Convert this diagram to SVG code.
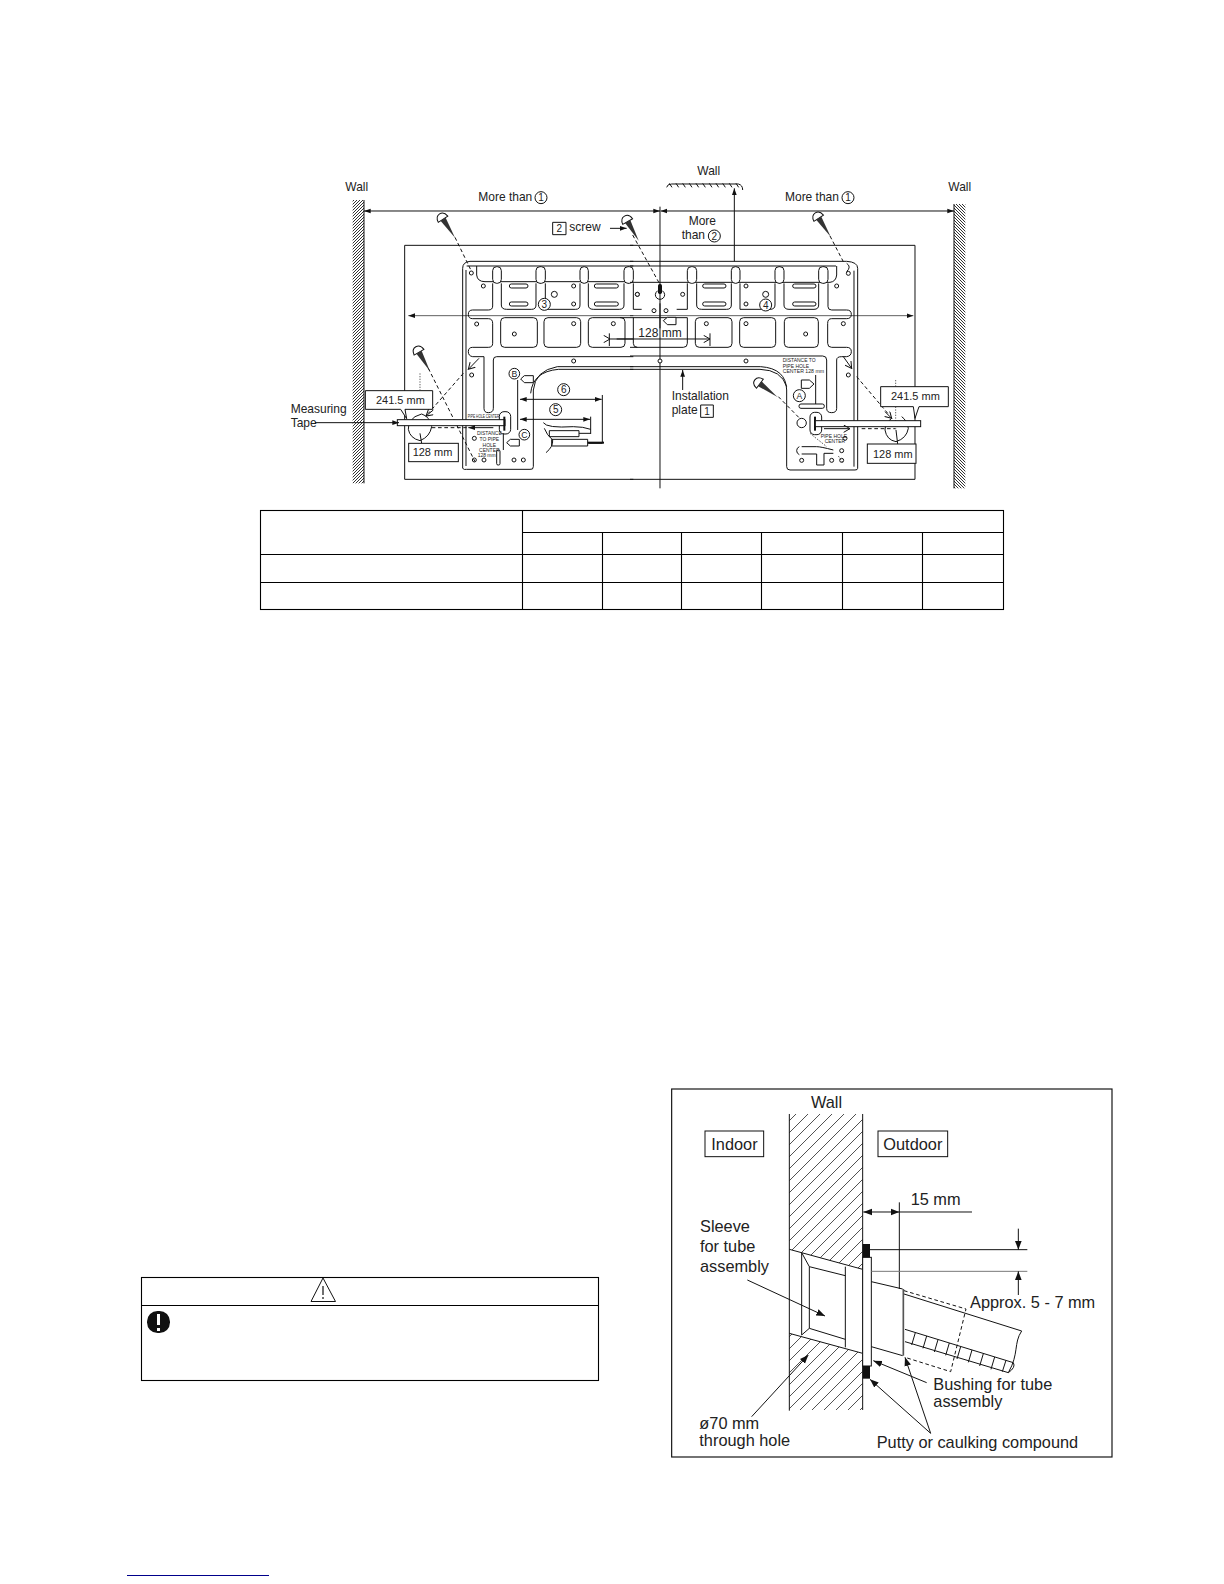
<svg xmlns="http://www.w3.org/2000/svg" width="1224" height="1584" viewBox="0 0 1224 1584">
<style>
text{font-family:"Liberation Sans",Arial,sans-serif;fill:#222}
.t{font-size:36px}
.m{font-size:33px}
.w{font-size:49px}
.s{font-size:15px}
.d{font-size:30px;text-anchor:middle}
.l{fill:none;stroke:#111;stroke-width:3;stroke-linejoin:round}
.th{fill:none;stroke:#111;stroke-width:2}
.da{fill:none;stroke:#111;stroke-width:3;stroke-dasharray:11 8}
.bx{fill:#fff;stroke:#111;stroke-width:3}
.h{fill:#fff;stroke:#111;stroke-width:3}
.k{fill:#111;stroke:none}
.tb{fill:none;stroke:#000;stroke-width:1.100}
</style>
<defs>
<pattern id="hl" width="9" height="9" patternUnits="userSpaceOnUse"><path d="M-2 11L11 -2M-2 2L2 -2M7 11L11 7" stroke="#111" stroke-width="2.600"/></pattern>
<pattern id="hr" width="9" height="9" patternUnits="userSpaceOnUse"><path d="M-2 -2L11 11M7 -2L11 2M-2 7L2 11" stroke="#111" stroke-width="2.600"/></pattern>
<pattern id="hw" width="36" height="36" patternUnits="userSpaceOnUse"><path d="M-4 40L40 -4M-4 4L4 -4M32 40L40 32" stroke="#222" stroke-width="2.400"/></pattern>
<marker id="a" markerWidth="22" markerHeight="16" refX="20" refY="8" orient="auto-start-reverse" markerUnits="userSpaceOnUse"><path d="M0 1L20 8L0 15Z" fill="#111"/></marker>
<marker id="b" markerWidth="30" markerHeight="24" refX="26" refY="12" orient="auto-start-reverse" markerUnits="userSpaceOnUse"><path d="M0 2L26 12L0 22Z" fill="#111"/></marker>
<marker id="o" markerWidth="24" markerHeight="24" refX="21" refY="12" orient="auto" markerUnits="userSpaceOnUse"><path d="M2 1L21 12L2 23" fill="none" stroke="#111" stroke-width="3"/></marker>
<g id="screw"><path d="M2 -17Q-17 -15 -17 0Q-17 15 2 17Z" fill="#fff" stroke="#111" stroke-width="3"/><path d="M2 -9L68 0L2 9Z" fill="#333"/></g>
</defs>
<rect width="1224" height="1584" fill="#fff"/>

<g id="plan-left" transform="translate(280 160) scale(.33333)">
<text class="t" x="196" y="92">Wall</text>
<rect x="218" y="120" width="34" height="850" fill="url(#hl)"/>
<path class="l" d="M252 120V970"/>
<text class="t" x="595" y="124">More than</text>
<circle cx="783" cy="113" r="18" class="l"/><text class="d" x="783" y="124">1</text>
<path class="l" d="M1060 256H374V958H1060"/>
<path class="l" d="M548 925V325Q548 306 570 304H1060M560 318H1060M558 330V918M590 318V345Q592 365 615 365H1060"/>
<path class="l" d="M548 925Q552 930 560 928H750Q760 930 760 920V690Q765 632 832 620H1060M752 700Q758 635 835 628H1060"/>
<rect x="638" y="320" width="26" height="50" rx="12" class="h"/><rect x="768" y="320" width="28" height="50" rx="12" class="h"/><rect x="900" y="320" width="25" height="50" rx="12" class="h"/><rect x="1032" y="320" width="28" height="50" rx="12" class="h"/>
<path class="l" d="M664 370V435Q664 448 680 448H755Q768 448 768 435V370M796 370V448H887Q900 448 900 435V370M925 370V435Q925 448 940 448H1018Q1032 448 1032 435V370M1060 370V448H1085"/>
<path class="l" d="M638 370V438Q638 450 625 450H578Q565 450 565 463Q565 476 578 476H625Q638 476 638 490V550Q638 562 625 562H578Q565 562 565 575Q565 588 578 590H612V745Q612 758 625 758Q640 758 640 745V600Q640 590 650 590H1060"/>
<rect x="662" y="473" width="110" height="89" rx="12" class="l"/><rect x="792" y="473" width="110" height="89" rx="12" class="l"/><rect x="925" y="473" width="110" height="89" rx="12" class="l"/>
<path class="l" d="M1060 473V550Q1060 562 1072 562"/>
<rect x="688" y="372" width="56" height="12" rx="6" class="l"/><rect x="688" y="426" width="56" height="12" rx="6" class="l"/><rect x="943" y="372" width="72" height="12" rx="6" class="l"/><rect x="943" y="426" width="72" height="12" rx="6" class="l"/>
<g class="h"><circle cx="574" cy="339" r="6"/><circle cx="610" cy="378" r="6"/><circle cx="881" cy="378" r="6"/><circle cx="881" cy="432" r="6"/><circle cx="823" cy="403" r="9"/><circle cx="590" cy="492" r="6"/><circle cx="703" cy="522" r="6"/><circle cx="881" cy="491" r="6"/><circle cx="1000" cy="491" r="6"/><circle cx="881" cy="603" r="6"/><circle cx="575" cy="645" r="6"/><circle cx="583" cy="835" r="6"/><circle cx="583" cy="900" r="6"/><circle cx="612" cy="900" r="6"/><circle cx="702" cy="900" r="6"/><circle cx="730" cy="900" r="6"/><circle cx="1072" cy="403" r="6"/></g>
<circle cx="793" cy="433" r="18" class="h"/><text class="d" x="793" y="444">3</text>
<path class="th" d="M385 467H1060" marker-start="url(#a)"/>
<path class="l" d="M990 537H1060" marker-start="url(#o)"/><path class="l" d="M988 520V558"/>
<use href="#screw" transform="translate(488 176) rotate(57)"/>
<path class="da" d="M525 232L575 335"/>
<use href="#screw" transform="translate(416 575) rotate(60)"/>
<path class="da" d="M445 625L585 905"/>
<path class="l" d="M597 595L565 628" marker-end="url(#o)"/>
<path class="da" d="M550 640L445 760"/><path class="l" d="M460 750L438 768" marker-end="url(#o)"/>
<path class="da" d="M420 640V690" style="stroke-width:2;stroke-dasharray:4 4"/>
<path class="l" d="M405 770Q385 785 385 808Q390 835 420 842Q450 830 455 800Q450 770 425 762Z"/>
<path class="l" d="M420 820L425 850"/>
<path class="bx" d="M256 692H458V748H375L380 776L362 748H256Z"/>
<text class="m" x="288" y="731">241.5 mm</text>
<rect x="386" y="850" width="149" height="55" class="bx"/>
<text class="m" x="398" y="889">128 mm</text>
<text class="t" x="32" y="760">Measuring</text>
<text class="t" x="32" y="801">Tape</text>
<rect x="658" y="755" width="34" height="67" rx="14" class="l"/>
<rect x="352" y="779" width="323" height="18" class="bx"/>
<rect x="670" y="770" width="6" height="42" class="k"/>
<path class="l" d="M105 788H357" marker-end="url(#a)"/>
<path class="da" d="M455 803H560"/><path class="l" d="M565 803H640" marker-start="url(#a)"/>
<text x="563" y="773" class="s" textLength="95" lengthAdjust="spacingAndGlyphs">PIPE HOLE CENTER</text>
<g class="s" style="text-anchor:middle"><text x="628" y="826">DISTANCE</text><text x="628" y="843">TO PIPE</text><text x="628" y="860">HOLE</text><text x="628" y="876">CENTER</text><text x="620" y="892">128 mm</text></g>
<rect x="650" y="870" width="10" height="45" rx="4" class="l"/>
<path class="l" d="M670 820V870M713 660V810"/>
<circle cx="703" cy="641" r="16" class="h"/><text class="d" x="703" y="651" style="font-size:26px">B</text>
<circle cx="733" cy="824" r="16" class="h"/><text class="d" x="733" y="834" style="font-size:26px">C</text>
<path class="h" d="M722 657L733 647H760V668H733Z"/><path class="h" d="M680 848L691 838H718V858H691Z"/>
<circle cx="851" cy="689" r="18" class="l"/><text class="d" x="851" y="700">6</text>
<circle cx="827" cy="749" r="18" class="l"/><text class="d" x="827" y="760">5</text>
<path class="l" d="M720 718H965" marker-start="url(#a)" marker-end="url(#a)"/>
<path class="l" d="M720 778H930" marker-start="url(#a)" marker-end="url(#a)"/>
<path class="l" d="M967 705V850H925M932 770V822M790 788Q800 805 880 800Q910 800 932 808"/>
<rect x="808" y="812" width="89" height="18" class="l"/><rect x="815" y="838" width="108" height="20" class="l"/>
<path class="l" d="M897 820H932"/><path d="M923 848H972" stroke="#111" stroke-width="6"/>
<path class="l" d="M793 805Q800 825 818 840Q820 860 798 878"/>
<rect x="818" y="187" width="40" height="37" class="l"/><text class="d" x="838" y="216">2</text>
<text class="t" x="868" y="213">screw</text>
<path class="l" d="M990 205H1040" marker-end="url(#a)"/>
<use href="#screw" transform="translate(1042 183) rotate(60)"/>
<path class="da" d="M1058 225L1138 370"/>
<path class="l" d="M252 153H1140" marker-start="url(#a)" marker-end="url(#a)"/>
</g>

<g id="plan-right" transform="translate(630 160) scale(.33333)">
<path class="l" d="M90 140V985"/>
<text class="t" x="202" y="46">Wall</text>
<path class="l" d="M110 82Q112 72 125 72H325Q338 75 338 90"/>
<path class="l" d="M118 70l8 12M138 70l8 12M158 70l8 12M178 70l8 12M198 70l8 12M218 70l8 12M238 70l8 12M258 70l8 12M278 70l8 12M298 70l8 12M318 70l8 12"/>
<path class="l" d="M313 304V85" marker-end="url(#a)"/>
<text class="t" x="176" y="194">More</text><text class="t" x="155" y="238">than</text>
<circle cx="253" cy="228" r="18" class="l"/><text class="d" x="253" y="239">2</text>
<text class="t" x="465" y="124">More than</text>
<circle cx="654" cy="113" r="18" class="l"/><text class="d" x="654" y="124">1</text>
<path class="l" d="M92 153H972" marker-start="url(#a)" marker-end="url(#a)"/>
<text class="t" x="955" y="92">Wall</text>
<rect x="972" y="132" width="34" height="853" fill="url(#hr)"/>
<path class="l" d="M972 132V985"/>
<path class="l" d="M0 256H855V958H0"/>
<path class="l" d="M0 304H650Q683 306 683 325V925Q683 930 675 930H480Q470 930 470 920V690Q468 625 392 620H0M0 628H390Q455 630 470 680M0 318H618M672 332V920"/>
<path class="l" d="M620 318V345Q618 365 600 367H0"/>
<path class="l" d="M650 310Q665 320 650 335"/>
<rect x="172" y="320" width="28" height="50" rx="12" class="h"/><rect x="304" y="320" width="26" height="50" rx="12" class="h"/><rect x="435" y="320" width="27" height="50" rx="12" class="h"/><rect x="566" y="320" width="28" height="50" rx="12" class="h"/>
<path class="l" d="M200 370V435Q200 448 215 448H290Q304 448 304 435V370M330 370V448H420Q435 448 435 435V370M462 370V435Q462 448 477 448H552Q566 448 566 435V370M172 370V448H140"/>
<path class="l" d="M594 370V440Q594 450 605 450H650Q664 450 664 463Q664 476 650 476H605Q593 476 593 490V550Q593 562 605 562H650Q664 562 664 575Q664 588 650 590H635Q620 590 620 600V745Q620 758 605 758Q590 758 590 745V600Q590 588 578 588H0"/>
<rect x="196" y="473" width="110" height="89" rx="12" class="l"/><rect x="329" y="473" width="108" height="89" rx="12" class="l"/><rect x="463" y="473" width="102" height="89" rx="12" class="l"/>
<path class="l" d="M172 473V550Q172 562 160 562H0M-30 473H172"/>
<rect x="218" y="372" width="70" height="12" rx="6" class="l"/><rect x="218" y="426" width="70" height="12" rx="6" class="l"/><rect x="488" y="372" width="70" height="12" rx="6" class="l"/><rect x="488" y="426" width="70" height="12" rx="6" class="l"/>
<rect x="84" y="372" width="12" height="30" rx="5" class="k"/>
<path class="l" d="M83 392Q76 398 76 404A14 14 0 0 0 104 404Q104 398 97 392"/>
<g class="h"><circle cx="22" cy="403" r="6"/><circle cx="158" cy="403" r="6"/><circle cx="72" cy="452" r="6"/><circle cx="108" cy="452" r="6"/><circle cx="348" cy="378" r="6"/><circle cx="348" cy="432" r="6"/><circle cx="620" cy="378" r="6"/><circle cx="407" cy="403" r="9"/><circle cx="655" cy="340" r="6"/><circle cx="229" cy="491" r="6"/><circle cx="348" cy="491" r="6"/><circle cx="527" cy="522" r="6"/><circle cx="640" cy="491" r="6"/><circle cx="90" cy="603" r="6"/><circle cx="348" cy="603" r="6"/><circle cx="655" cy="645" r="6"/><circle cx="645" cy="835" r="6"/><circle cx="635" cy="872" r="6"/><circle cx="515" cy="901" r="6"/><circle cx="605" cy="901" r="6"/><circle cx="635" cy="901" r="6"/></g>
<circle cx="407" cy="435" r="18" class="h"/><text class="d" x="407" y="446">4</text>
<path class="th" d="M0 467H850" marker-end="url(#a)"/>
<path class="l" d="M90 430V505"/>
<path class="h" d="M100 482L112 472H138V494H112Z"/>
<text class="t" x="25" y="532">128 mm</text>
<path class="l" d="M-40 537H240" marker-end="url(#o)"/><path class="l" d="M240 520V558"/>
<text class="t" x="125" y="720">Installation</text><text class="t" x="125" y="763">plate</text>
<rect x="212" y="735" width="38" height="37" class="l"/><text class="d" x="231" y="765">1</text>
<path class="l" d="M158 690V630" marker-end="url(#a)"/>
<use href="#screw" transform="translate(565 173) rotate(57)"/>
<path class="da" d="M600 228L640 305"/>
<use href="#screw" transform="translate(388 670) rotate(37)"/>
<path class="da" d="M445 710L512 778"/>
<circle cx="515" cy="789" r="14" class="h"/>
<rect x="540" y="757" width="35" height="67" rx="14" class="l"/>
<rect x="552" y="770" width="6" height="42" class="k"/>
<path class="l" d="M514 660H538L552 672L538 685H514Z"/>
<path class="l" d="M557 645V732"/><rect x="507" y="732" width="76" height="13" rx="6" class="l"/>
<circle cx="508" cy="707" r="18" class="h"/><text class="d" x="508" y="717" style="font-size:26px">A</text>
<g class="s"><text x="458" y="607">DISTANCE TO</text><text x="458" y="623">PIPE HOLE</text><text x="458" y="638" textLength="124" lengthAdjust="spacingAndGlyphs">CENTER 128 mm</text></g>
<g class="s"><text x="572" y="833">PIPE HOLE</text><text x="584" y="849">CENTER</text></g>
<path class="l" d="M640 590L665 625" marker-end="url(#o)"/>
<path class="da" d="M680 650L775 762"/><path class="l" d="M765 755L785 775" marker-end="url(#o)"/>
<path class="th" d="M797 660V810" stroke-dasharray="4 4"/>
<path class="l" d="M785 775Q765 790 765 810Q770 840 798 845Q830 835 835 805Q830 780 815 770"/>
<path class="l" d="M798 810L803 852"/>
<rect x="556" y="782" width="316" height="18" class="bx"/>
<path class="l" d="M582 806H660" marker-end="url(#o)"/>
<path class="da" d="M695 806H795"/>
<path class="l" d="M515 860H560Q572 860 610 870M515 882H560V915H582V880H610M508 860A13 13 0 0 0 508 884"/>
<path class="da" d="M540 820L590 860M625 888L640 910" style="stroke-width:2;stroke-dasharray:5 4"/>
<path class="bx" d="M752 680H955V740H867L855 775L850 740H752Z"/>
<text class="m" x="783" y="720">241.5 mm</text>
<rect x="712" y="852" width="146" height="58" class="bx"/>
<text class="m" x="729" y="893">128 mm</text>
</g>

<g id="table">
<rect x="260.500" y="510.500" width="743" height="99" class="tb"/>
<path class="tb" d="M522.500 510.500V609.500M522.500 532.500H1003.500M260.500 554.500H1003.500M260.500 582.500H1003.500M602.500 532.500V609.500M681.500 532.500V609.500M761.500 532.500V609.500M842.500 532.500V609.500M922.500 532.500V609.500"/>
</g>

<g id="warning">
<rect x="141.500" y="1277.500" width="457" height="103" class="tb"/>
<path class="tb" d="M141.500 1305.500H598.500"/>
<path d="M323 1278L311 1301.500H335.500Z" fill="#fff" stroke="#111" stroke-width="1"/>
<path d="M323 1286V1295M323 1297V1299" stroke="#111" stroke-width="1.200"/>
<rect x="147" y="1311" width="23" height="22" rx="10.500" fill="#111"/>
<path d="M158.500 1314V1325M158.500 1328V1331" stroke="#fff" stroke-width="3"/>
</g>

<g id="wall-section" transform="translate(660 1070) scale(.33333)">
<rect x="35" y="57" width="1321" height="1104" fill="#fff" stroke="#111" stroke-width="3.500"/>
<text x="453" y="114" style="font-size:49px">Wall</text>
<path d="M388 132H608V598L388 538Z" fill="url(#hw)"/>
<path d="M388 790L608 850V1020H388Z" fill="url(#hw)"/>
<path class="l" d="M388 132V1022M608 132V1020"/>
<path class="l" d="M388 538L608 598M388 790L608 850"/>
<path class="l" d="M425 548V795M448 590V775M425 548L448 590M425 795L448 775M448 590L556 617M448 775L556 808M556 590V832"/>
<rect x="135" y="183" width="176" height="77" class="bx"/><text class="w" x="154" y="240">Indoor</text>
<rect x="654" y="183" width="209" height="77" class="bx"/><text class="w" x="670" y="240">Outdoor</text>
<rect x="608" y="562" width="26" height="326" class="bx"/>
<rect x="608" y="522" width="22" height="40" class="k"/><rect x="608" y="888" width="22" height="38" class="k"/>
<path class="l" d="M634 635L728 657M634 830L728 857"/>
<path d="M730 657V857" stroke="#555" stroke-width="5"/>
<path class="l" d="M732 672L1085 783M735 778L1060 878M735 815L1045 908"/>
<path class="l" d="M1085 783C1060 820 1078 850 1045 908M1060 878Q1068 892 1045 908"/>
<path class="l" d="M766 788L755 825M800 798L789 835M834 809L823 846M868 819L857 856M902 830L891 867M936 840L925 877M970 851L959 888M1004 861L993 898M1038 871L1027 905"/>
<path class="da" d="M732 662L918 717L872 905L735 862"/>
<path class="l" d="M718 397V657"/>
<path class="l" d="M610 426H718" marker-start="url(#b)" marker-end="url(#b)"/><path class="l" d="M718 426H936"/>
<text x="752" y="406" class="w">15 mm</text>
<path class="l" d="M630 539H1102"/><path d="M634 604H1102" stroke="#777" stroke-width="3"/>
<path class="l" d="M1075 476V539" marker-end="url(#b)"/><path class="l" d="M1075 675V604" marker-end="url(#b)"/>
<text x="930" y="714" class="w">Approx. 5 - 7 mm</text>
<text x="120" y="487" class="w">Sleeve</text><text x="120" y="546" class="w">for tube</text><text x="120" y="605" class="w">assembly</text>
<path class="l" d="M262 630L495 738" marker-end="url(#b)"/>
<text x="820" y="960" class="w">Bushing for tube</text><text x="820" y="1010" class="w">assembly</text>
<path class="l" d="M800 938L640 872" marker-end="url(#b)"/>
<path class="l" d="M812 1090L630 928" marker-end="url(#b)"/><path class="l" d="M812 1090L735 862" marker-end="url(#b)"/>
<text x="118" y="1077" class="w">ø70 mm</text><text x="118" y="1127" class="w">through hole</text>
<path class="l" d="M275 1040L445 855" marker-end="url(#b)"/>
<text x="650" y="1133" class="w">Putty or caulking compound</text>
</g>

<path id="footer-rule" d="M127 1575.500H269" stroke="#00008b" stroke-width="1.200"/>
</svg>
